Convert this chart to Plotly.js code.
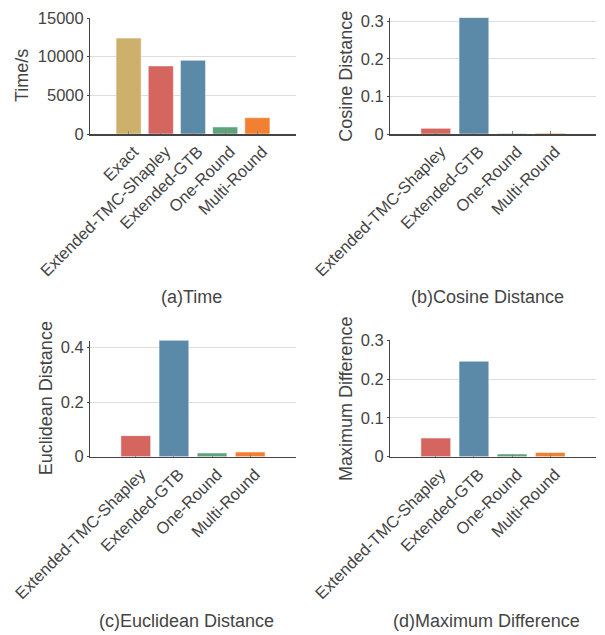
<!DOCTYPE html>
<html>
<head>
<meta charset="utf-8">
<script src="https://cdn.plot.ly/plotly-3.0.1.min.js"></script>
<style>html,body{margin:0;padding:0;background:#fff;}#chart{width:605px;height:635px;}</style>
</head>
<body>
<div id="chart"></div>
<script>
// Data
const methodsTime = ["Exact", "Extended-TMC-Shapley", "Extended-GTB", "One-Round", "Multi-Round"];
const timeValues = [12400, 8800, 9530, 910, 2110];
const methodsDist = ["Extended-TMC-Shapley", "Extended-GTB", "One-Round", "Multi-Round"];
const cosineValues = [0.015, 0.31, 0.0012, 0.002];
const euclideanValues = [0.077, 0.427, 0.0135, 0.017];
const maxDiffValues = [0.048, 0.246, 0.007, 0.011];
const panelTitles = ["(a)Time", "(b)Cosine Distance", "(c)Euclidean Distance", "(d)Maximum Difference"];
const yTitles = ["Time/s", "Cosine Distance", "Euclidean Distance", "Maximum Difference"];

const colorMap = {
  "Exact": "#CDB06B",
  "Extended-TMC-Shapley": "#D4665F",
  "Extended-GTB": "#5B8AA8",
  "One-Round": "#5FA27B",
  "Multi-Round": "#F28033"
};

const FONT = "Liberation Sans, Arial, Helvetica, sans-serif";
const TXT = "#444";

function barTrace(x, y, xa, ya) {
  return {
    type: "bar", x: x, y: y, xaxis: xa, yaxis: ya,
    marker: {color: x.map(m => colorMap[m]), line: {color: "rgba(255,255,255,0.5)", width: 1}},
    width: 0.78, hoverinfo: "x+y", showlegend: false
  };
}

const data = [
  barTrace(methodsTime, timeValues, "x", "y"),
  barTrace(methodsDist, cosineValues, "x2", "y2"),
  barTrace(methodsDist, euclideanValues, "x3", "y3"),
  barTrace(methodsDist, maxDiffValues, "x4", "y4")
];

function xAxis(domain, anchor, n) {
  return {
    domain: domain, anchor: anchor, type: "category",
    range: [-1.2, n - 1 + 1.2],
    tickangle: -45, ticks: "inside", ticklen: 3, tickcolor: "#888",
    ticklabelshift: 5,
    tickfont: {family: FONT, size: 16.5, color: TXT},
    showline: true, linecolor: "#444", linewidth: 1.6,
    showgrid: false, zeroline: false, fixedrange: true
  };
}
function yAxis(domain, anchor, range, dtick, fmt) {
  return {
    domain: domain, anchor: anchor, range: range, dtick: dtick, tick0: 0,
    tickformat: fmt,
    ticks: "outside", ticklen: 2, tickcolor: "#444",
    tickfont: {family: FONT, size: 16.5, color: TXT},
    showline: true, linecolor: "#444", linewidth: 1,
    showgrid: true, gridcolor: "#dddddd", gridwidth: 1,
    zeroline: false, fixedrange: true
  };
}

const H = 635, W = 605;
const xL = [90 / W, 296 / W], xR = [390 / W, 596 / W];

const baseAnn = {xref: "paper", yref: "paper", showarrow: false,
  xanchor: "center", yanchor: "middle", font: {family: FONT, size: 18, color: TXT}};

const annotations = [
  {text: panelTitles[0], x: 191.7 / W, y: 1 - 297 / H},
  {text: panelTitles[1], x: 487.5 / W, y: 1 - 297 / H},
  {text: panelTitles[2], x: 186.7 / W, y: 1 - 620.7 / H},
  {text: panelTitles[3], x: 486.7 / W, y: 1 - 620.7 / H},
  {text: yTitles[0], x: 22 / W, y: 1 - 76 / H, textangle: -90},
  {text: yTitles[1], x: 345.7 / W, y: 1 - 76 / H, textangle: -90},
  {text: yTitles[2], x: 45.6 / W, y: 1 - 398.6 / H, textangle: -90},
  {text: yTitles[3], x: 345.5 / W, y: 1 - 398.6 / H, textangle: -90}
].map(a => Object.assign({}, baseAnn, a));

const layout = {
  width: W, height: H,
  margin: {l: 0, r: 0, t: 0, b: 0},
  paper_bgcolor: "#fff", plot_bgcolor: "#fff",
  font: {family: FONT, color: TXT},
  xaxis: xAxis(xL, "y", 5),
  yaxis: yAxis([(H - 134) / H, (H - 18) / H], "x", [0, 15000], 5000, "d"),
  xaxis2: xAxis(xR, "y2", 4),
  yaxis2: yAxis([(H - 134) / H, (H - 17.5) / H], "x2", [0, 0.31], 0.1, ""),
  xaxis3: xAxis(xL, "y3", 4),
  yaxis3: yAxis([(H - 456.7) / H, (H - 340.5) / H], "x3", [0, 0.425], 0.2, ""),
  xaxis4: xAxis(xR, "y4", 4),
  yaxis4: yAxis([(H - 456.7) / H, (H - 340.3) / H], "x4", [0, 0.3], 0.1, ""),
  annotations: annotations,
  bargap: 0.22
};

Plotly.newPlot("chart", data, layout, {displayModeBar: false, staticPlot: true});
</script>
</body>
</html>
